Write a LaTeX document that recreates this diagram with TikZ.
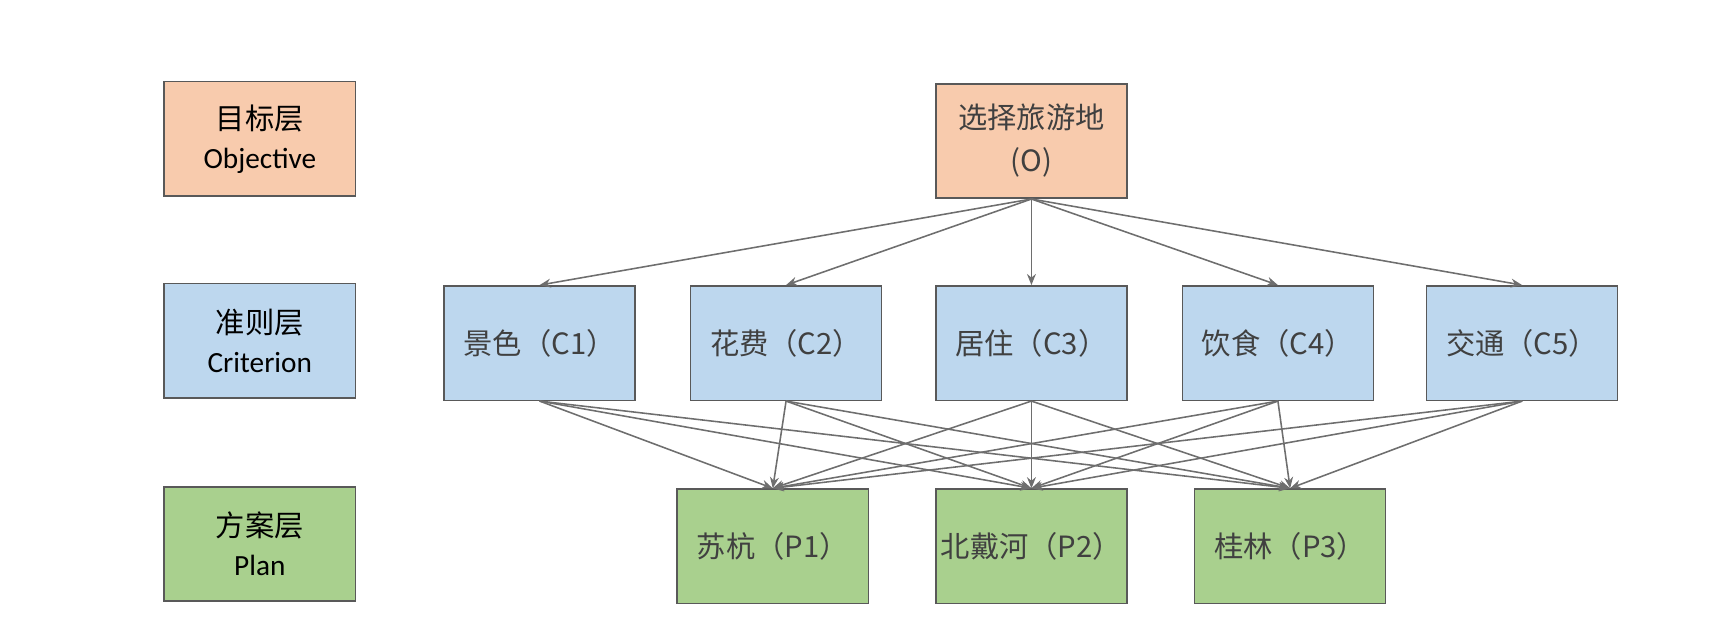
\documentclass[tikz,border=0pt]{standalone}
\usepackage{fontspec}
\setmainfont{Carlito}
\newfontfamily\cjk{Noto Sans CJK SC}
\usetikzlibrary{arrows.meta, positioning}
\definecolor{objfill}{HTML}{F8CBAD}
\definecolor{crifill}{HTML}{BDD7EE}
\definecolor{planfill}{HTML}{A9D08E}
\definecolor{edgegray}{HTML}{595959}
\definecolor{linkgray}{HTML}{6E6E6E}
\begin{document}
\begin{tikzpicture}[x=0.01cm, y=-0.01cm,
	box/.style={draw=edgegray, minimum width=1.72cm, minimum height=1.03cm, inner sep=0pt, align=center, font=\fontsize{7.5}{10}\selectfont},
	link/.style={draw=linkgray, thin, -{Stealth[length=1mm, width=0.8mm]}}]
		\useasboundingbox (0,0) rectangle (1560,560);
		% layer labels
		\node [box, fill=objfill] (lo) at (234,125) {{\cjk 目标层}\\Objective};
		\node [box, fill=crifill] (lc) at (234,307) {{\cjk 准则层}\\Criterion};
		\node [box, fill=planfill] (lp) at (234,490) {{\cjk 方案层}\\Plan};
		% goal
		\node [box, fill=objfill, font=\cjk\fontsize{7.5}{11}\selectfont, text=black!75] (o) at (929,127) {选择旅游地\\(O)};
		% criteria
		\foreach \n/\x/\t in {1/486/景色,2/708/花费,3/929/居住,4/1151/饮食,5/1371/交通}{
			\node [box, fill=crifill, font=\cjk\fontsize{7.5}{10}\selectfont, text=black!75] (c\n) at (\x,309) {\t（C\n）};
			\draw [link] (o.south) -- (c\n.north);
		}
		% plans
		\foreach \n/\x/\t in {1/696/苏杭,2/929/北戴河,3/1162/桂林}{
			\node [box, fill=planfill, font=\cjk\fontsize{7.5}{10}\selectfont, text=black!75] (p\n) at (\x,492) {\t（P\n）};
		}
		\foreach \i in {1,...,5}{
			\foreach \j in {1,2,3}{
				\draw [link] (c\i.south) -- (p\j.north);
			}
		}
	\end{tikzpicture}
\end{document}
